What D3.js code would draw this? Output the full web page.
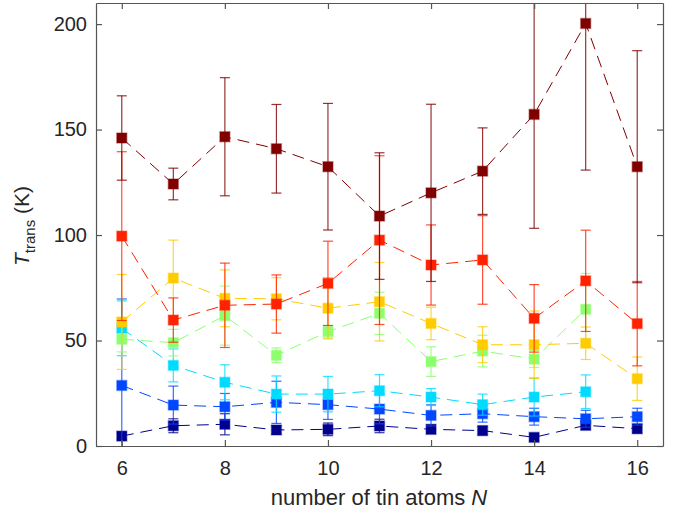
<!DOCTYPE html>
<html>
<head>
<meta charset="utf-8">
<script src="https://cdn.jsdelivr.net/npm/d3@7"></script>
<style>
  body { margin: 0; background: #fff; }
  text { font-family: "Liberation Sans", Arial, sans-serif; fill: #262626; }
</style>
</head>
<body>
<svg width="674" height="513"></svg>
<script>
// cluster size N
var nAtoms = [6, 7, 8, 9, 10, 11, 12, 13, 14, 15, 16];

// transition temperatures (K) per series, with error bars
var navy      = [4.7, 9.6, 10.3, 7.6, 7.9, 9.5, 7.9, 7.3, 4.1, 9.8, 8.2];
var navyErr   = [1.5, 3.3, 5, 2, 3, 3.2, 2, 2, 1.5, 2, 2];
var blue      = [28.7, 19.4, 18.6, 20.7, 19.6, 17.5, 14.5, 15.3, 13.9, 12.9, 13.9];
var blueErr   = [41, 9, 6.3, 10, 7, 7, 5, 4, 4, 4, 4];
var cyan      = [55.8, 38.2, 30.2, 24.6, 24.6, 26.2, 23.2, 19.6, 23.2, 25.7, null];
var cyanErr   = [13, 7.8, 8.3, 8.6, 8.4, 7.6, 4, 5, 9, 8, null];
var green     = [50.6, 49, 61.8, 43, 54.2, 62.9, 40, 45, 41.2, 64.8, null];
var greenErr  = [6, 6.3, 14, 3.5, 3, 10, 7, 7.5, 4, 17, null];
var yellow    = [58.8, 79.6, 70, 69.8, 65.3, 68.4, 58.1, 48, 48, 48.7, 31.9];
var yellowErr = [22.5, 18, 13.5, 10, 14.5, 18.6, 7.7, 8.5, 16, 7.7, 10.3];
var red       = [99.5, 59.7, 66.7, 67.3, 77.1, 97.6, 85.8, 88.2, 60.5, 78.3, 58];
var redErr    = [40, 10.5, 20, 13.8, 20, 40, 19, 21, 16, 24, 20];
var darkred   = [146, 124.2, 146.6, 140.9, 132.4, 109, 120, 130.3, 157.2, 200.3, 132.4];
var darkredErr = [20, 7.5, 28, 21, 30, 30, 42, 20.5, 54, 69.5, 55];

var xTicks = [6, 8, 10, 12, 14, 16];
var yTicks = [0, 50, 100, 150, 200];

var series = [
  { vals: navy, err: navyErr, color: "#00008f" },
  { vals: blue, err: blueErr, color: "#0047ff" },
  { vals: cyan, err: cyanErr, color: "#00dbff" },
  { vals: green, err: greenErr, color: "#8cff6e" },
  { vals: yellow, err: yellowErr, color: "#ffcc00" },
  { vals: red, err: redErr, color: "#ff2200" },
  { vals: darkred, err: darkredErr, color: "#800000" }
];

var margins = { left: 96, top: 3, right: 11, bottom: 67 };
var width = 674 - margins.left - margins.right;
var height = 513 - margins.top - margins.bottom;

var svg = d3.select("svg");

var xScale = d3.scaleLinear().domain([5.5, 16.5]).range([0, width]);
var yScale = d3.scaleLinear().domain([0, 210]).range([height, 0]);

var graph = svg.append("g")
  .attr("transform", "translate(" + margins.left + "," + margins.top + ")");

graph.append("clipPath").attr("id", "clip")
  .append("rect").attr("width", width).attr("height", height);

var plot = graph.append("g").attr("clip-path", "url(#clip)");

var lineGenerator = d3.line()
  .defined(function(d) { return d.v != null; })
  .x(function(d) { return xScale(d.n); })
  .y(function(d) { return yScale(d.v); });

series.forEach(function(s) {
  var pts = nAtoms.map(function(n, i) { return { n: n, v: s.vals[i], e: s.err[i] }; })
    .filter(function(d) { return d.v != null; });

  // error bars
  var eb = plot.append("g")
    .attr("stroke", s.color)
    .attr("stroke-width", 1.2)
    .attr("stroke-opacity", 0.8);
  eb.selectAll(".bar").data(pts).enter().append("line")
    .attr("x1", function(d) { return xScale(d.n); })
    .attr("x2", function(d) { return xScale(d.n); })
    .attr("y1", function(d) { return yScale(d.v - d.e); })
    .attr("y2", function(d) { return yScale(d.v + d.e); });
  [-1, 1].forEach(function(sign) {
    eb.selectAll(".cap" + sign).data(pts).enter().append("line")
      .attr("x1", function(d) { return xScale(d.n) - 5; })
      .attr("x2", function(d) { return xScale(d.n) + 5; })
      .attr("y1", function(d) { return yScale(d.v + sign * d.e); })
      .attr("y2", function(d) { return yScale(d.v + sign * d.e); });
  });

  plot.append("path")
    .datum(pts)
    .attr("fill", "none")
    .attr("stroke", s.color)
    .attr("stroke-width", 1)
    .attr("stroke-dasharray", "12,7")
    .attr("d", lineGenerator);

  plot.selectAll(null).data(pts).enter().append("rect")
    .attr("x", function(d) { return xScale(d.n) - 5; })
    .attr("y", function(d) { return yScale(d.v) - 5; })
    .attr("width", 10)
    .attr("height", 10)
    .attr("fill", s.color)
    .attr("stroke", s.color)
    .attr("stroke-opacity", 0.35)
    .attr("stroke-width", 1.5);
});

// axes, ticks inside on all four sides
var axisColor = "#555";
var xAxis = d3.axisBottom(xScale).tickValues(xTicks).tickSizeInner(-6).tickSizeOuter(0).tickPadding(15);
var yAxis = d3.axisLeft(yScale).tickValues(yTicks).tickSizeInner(-6).tickSizeOuter(0).tickPadding(9);
var xTop = d3.axisTop(xScale).tickValues(xTicks).tickSizeInner(-6).tickSizeOuter(0).tickFormat("");
var yRight = d3.axisRight(yScale).tickValues(yTicks).tickSizeInner(-6).tickSizeOuter(0).tickFormat("");

graph.append("g").attr("transform", "translate(0," + height + ")").call(xAxis);
graph.append("g").call(yAxis);
graph.append("g").call(xTop);
graph.append("g").attr("transform", "translate(" + width + ",0)").call(yRight);

graph.selectAll(".domain, .tick line").attr("stroke", axisColor).attr("stroke-width", 1.2);
graph.selectAll(".tick text")
  .attr("font-size", 20)
  .attr("font-family", "Liberation Sans, Arial, sans-serif")
  .attr("fill", "#262626");

// axis labels
svg.append("text")
  .attr("x", 379)
  .attr("y", 505)
  .attr("text-anchor", "middle")
  .attr("font-size", 22)
  .text("number of tin atoms ")
  .append("tspan").attr("font-style", "italic").text("N");

var yl = svg.append("text")
  .attr("transform", "translate(29,226) rotate(-90)")
  .attr("text-anchor", "middle")
  .attr("font-size", 21);
yl.append("tspan").attr("font-style", "italic").text("T");
yl.append("tspan").attr("font-size", 15).attr("dy", 6).text("trans");
yl.append("tspan").attr("dy", -6).text(" (K)");
</script>
</body>
</html>
